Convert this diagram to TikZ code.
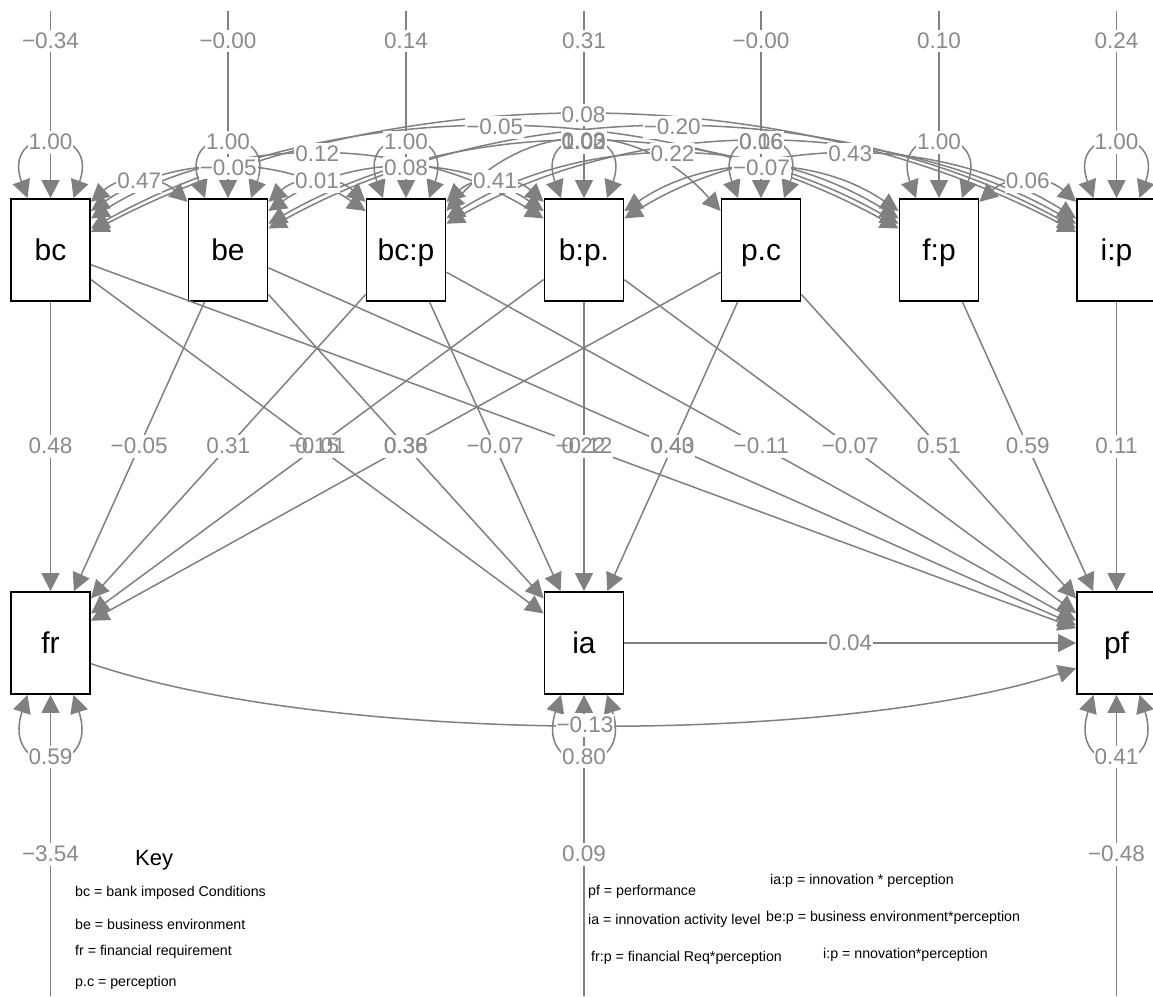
\documentclass[tikz,border=0pt]{standalone}
\usepackage{fontspec}
\setmainfont{Liberation Sans}
\usetikzlibrary{arrows.meta}
\definecolor{edgegray}{HTML}{808080}
\definecolor{labgray}{HTML}{8A8A8A}
\pgfdeclarelayer{labbg}
\pgfdeclarelayer{labtxt}
\pgfsetlayers{main,labbg,labtxt}
\tikzset{
  var/.style={draw=black, line width=1.8pt, fill=white, minimum width=79pt,
    minimum height=102pt, inner sep=0pt, text height=21pt, text depth=0pt,
    font=\fontsize{30}{34}\selectfont},
  reg/.style={draw=edgegray, line width=1.5pt, -{Triangle[length=18pt,width=18pt]}},
  cov/.style={draw=edgegray, line width=1.5pt,
    {Triangle[length=18pt,width=18pt]}-{Triangle[length=18pt,width=18pt]}},
  labfont/.style={font=\fontsize{22.5}{26}\selectfont, inner xsep=1pt, inner ysep=2pt,
    text height=16.5pt, text depth=2pt},
  labbox/.style={labfont, fill=white},
  labtext/.style={labfont, text=labgray},
  keytitle/.style={anchor=west, inner sep=0pt, font=\fontsize{22}{26}\selectfont},
  keyitem/.style={anchor=west, inner sep=0pt, font=\fontsize{14.2}{17}\selectfont},
}
% edge label: white patch below, grey figure above, so overlapping labels stay legible
\newcommand\elab[2]{%
  \begin{pgfonlayer}{labbg}\node[labbox] (b-#1) at (#1) {\phantom{#2}};\end{pgfonlayer}%
  \begin{pgfonlayer}{labtxt}\node[labtext] (t-#1) at (#1) {#2};\end{pgfonlayer}}

\begin{document}
\begin{tikzpicture}[x=1pt, y=-1pt]
\useasboundingbox (0,0) rectangle (1153,996);
\clip (0,0) rectangle (1153,996);
\fill[white] (0,0) rectangle (1153,996);

% observed variables
\node[var] (bc)  at (50.5,250)   {bc};
\node[var] (be)  at (228,250)    {be};
\node[var] (bcp) at (406,250)    {bc:p};
\node[var] (bpp) at (584,250)    {b:p.};
\node[var] (pc)  at (761,250)    {p.c};
\node[var] (fp)  at (939,250)    {f:p};
\node[var] (ip)  at (1116.5,250) {i:p};
\node[var] (fr)  at (50.5,643)   {fr};
\node[var] (ia)  at (584,643)    {ia};
\node[var] (pf)  at (1116.5,643) {pf};

% intercepts of the exogenous row
\foreach \n/\v in {bc/{−0.34}, be/{−0.00}, bcp/{0.14}, bpp/{0.31}, pc/{−0.00}, fp/{0.10}, ip/{0.24}}{
  \coordinate (\n-int) at (\n.north |- 0,11);
  \draw[reg] (\n-int) -- (\n) coordinate[pos=0.16] (\n-intl);
  \elab{\n-intl}{\v}
}
% variances of the exogenous row
\foreach \n/\v in {bc/1.00, be/1.00, bcp/1.00, bpp/1.00, pc/0.06, fp/1.00, ip/1.00}{
  \draw[cov] ([xshift=-23pt]\n.north) .. controls +(-27,-74) and +(27,-74) ..
    ([xshift=23pt]\n.north) coordinate[pos=0.5] (\n-var);
  \elab{\n-var}{\v}
}

% intercepts and residual variances of the outcomes
\foreach \n/\v/\r in {fr/{−3.54}/0.59, ia/{0.09}/0.80, pf/{−0.48}/0.41}{
  \coordinate (\n-int) at (\n.south |- 0,996);
  \draw[reg] (\n-int) -- (\n) coordinate[pos=0.47] (\n-intl);
  \elab{\n-intl}{\v}
  \draw[cov] ([xshift=-23pt]\n.south) .. controls +(-27,83) and +(27,83) ..
    ([xshift=23pt]\n.south) coordinate[pos=0.5] (\n-var);
  \elab{\n-var}{\r}
}

% covariances among the exogenous variables
\foreach \a/\b/\ang/\k/\h/\v in {
  bc/be/50/30/27/0.47, be/bcp/50/30/27/0.01, bcp/bpp/50/30/27/0.41, fp/ip/50/30/27/0.06,
  bc/bcp/44/83/57/{−0.05}, be/bpp/44/83/57/0.08, bpp/fp/44/83/57/{−0.07}, bcp/pc/44/83/93/0.03,
  bc/bpp/38/136/85/0.12, bcp/fp/38/136/85/0.22, bpp/ip/38/136/85/0.43,
  be/fp/33/190/109/0.02, bcp/ip/33/190/109/0.16,
  bc/fp/28/243/135/{−0.05}, be/ip/28/243/135/{−0.20},
  bc/ip/24/296/156/0.08}{
  \pgfmathtruncatemacro\eang{180-\ang}
  \draw[cov] (\a.\ang) .. controls +(\k,-\h) and +(-\k,-\h) .. (\b.\eang)
    coordinate[pos=0.5] (c-\a-\b);
  \elab{c-\a-\b}{\v}
}

% regressions
\foreach \s/\t/\v in {
  bc/fr/0.48, be/fr/{−0.05}, bcp/fr/0.31, bpp/fr/{−0.01}, pc/fr/0.36,
  bc/ia/0.15, be/ia/0.38, bcp/ia/{−0.07}, bpp/ia/{−0.12}, pc/ia/0.40,
  bc/pf/0.22, be/pf/0.43, bcp/pf/{−0.11}, bpp/pf/{−0.07}, pc/pf/0.51,
  fp/pf/0.59, ip/pf/0.11, ia/pf/0.04}{
  \draw[reg] (\s) -- (\t) coordinate[midway] (\s-\t-m);
  \elab{\s-\t-m}{\v}
}
\draw[reg] (fr.-27) .. controls +(240,82) and +(-236,77) .. (pf.212)
  coordinate[pos=0.5] (fr-pf-m);
\elab{fr-pf-m}{−0.13}

% key
\node[keytitle] (keyhead) at (135,860) {Key};
\node[keyitem] (k1)  at (75,893)  {bc = bank imposed Conditions};
\node[keyitem] (k2)  at (75,924)  {be = business environment};
\node[keyitem] (k3)  at (75,952)  {fr = financial requirement};
\node[keyitem] (k4)  at (75,983)  {p.c = perception};
\node[keyitem] (k5)  at (588,892) {pf = performance};
\node[keyitem] (k6)  at (770,881) {ia:p = innovation * perception};
\node[keyitem] (k7)  at (588,921) {ia = innovation activity level};
\node[keyitem] (k8)  at (766,918) {be:p = business environment*perception};
\node[keyitem] (k9)  at (591,958) {fr:p = financial Req*perception};
\node[keyitem] (k10) at (823,955) {i:p = nnovation*perception};
\end{tikzpicture}
\end{document}
